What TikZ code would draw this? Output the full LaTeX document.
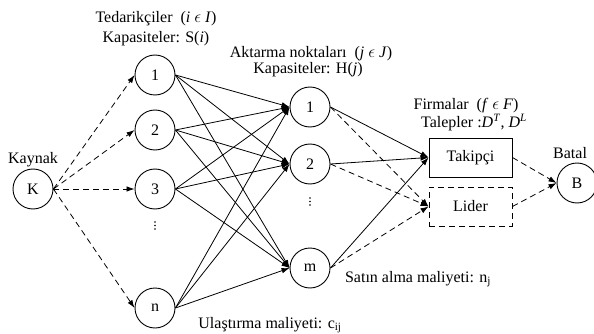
\documentclass[tikz,border=0pt]{standalone}
\usepackage{fontspec}
\setmainfont{Liberation Serif}
\usetikzlibrary{arrows.meta}
\begin{document}
\begin{tikzpicture}[x=1pt,y=-1pt,
  font=\rmfamily\fontsize{16}{19}\selectfont,
  circ/.style={circle, draw, minimum size=40pt, inner sep=0pt, line width=0.9pt},
  firmbox/.style={draw, minimum width=83pt, minimum height=39pt, inner sep=0pt, line width=0.9pt},
  arr/.style={-{Latex[length=8pt,width=5.5pt]}, line width=0.8pt},
  dsh/.style={arr, dash pattern=on 6pt off 4pt},
  lbl/.style={anchor=base, inner sep=0pt},
  dotsty/.style={circle, fill, inner sep=0pt, minimum size=1.6pt}]
\useasboundingbox (0,0) rectangle (594,334);

% nodes
\node[circ] (K) at (33,189) {K};
\node[circ] (s1) at (155,75) {1};
\node[circ] (s2) at (155,130) {2};
\node[circ] (s3) at (155,189) {3};
\node[circ] (sn) at (155,308) {n};
\foreach \k in {0,1,2} \node[dotsty] (sd\k) at (155,222+3.5*\k) {};

\node[circ] (t1) at (310,107) {1};
\node[circ] (t2) at (310,164) {2};
\node[circ] (tm) at (310,268) {m};
\foreach \k in {0,1,2} \node[dotsty] (td\k) at (310,198+3.5*\k) {};

\node[firmbox] (tak) at (470.5,157.5) {Takipçi};
\node[firmbox, dash pattern=on 6pt off 4pt] (lid) at (470.5,206.5) {Lider};

\node[circ] (B) at (577,183) {B};

% labels
\node[lbl] (l1) at (156,23) {Tedarikçiler \ (\textit{i} $\epsilon$ \textit{I})};
\node[lbl] (l2) at (156,43) {Kapasiteler: S(\textit{i})};
\node[lbl] (l3) at (311,58) {Aktarma noktaları \ (\textit{j} $\epsilon$ \textit{J})};
\node[lbl] (l4) at (308,74) {Kapasiteler: H(\textit{j})};
\node[lbl] (l5) at (466,110) {Firmalar \ (\textit{f} $\epsilon$ \textit{F})};
\node[lbl] (l6) at (474,128) {Talepler :\textit{D}\textsuperscript{\textit{T}}, \textit{D}\textsuperscript{\textit{L}}};
\node[lbl] (l7) at (33,163) {Kaynak};
\node[lbl, anchor=base west] (l8) at (553,158) {Batal};
\node[lbl] (l9) at (270,328) {Ulaştırma maliyeti: c\textsubscript{ij}};
\node[lbl] (l10) at (418,282) {Satın alma maliyeti: n\textsubscript{j}};

% source to suppliers
\foreach \s in {s1,s2,s3,sn}
  \draw[dsh] (K.east) -- (\s.west);

% suppliers to transshipment
\foreach \s in {s1,s2,s3,sn}
  \foreach \t in {t1,t2,tm}
    \draw[arr] (\s.east) -- (\t.west);

% transshipment to firms
\foreach \t in {t1,t2,tm} {
  \draw[arr] (\t.east) -- (tak.west);
  \draw[dsh] (\t.east) -- (lid.west);
}

% firms to B
\draw[dsh] (tak.east) -- (B.west);
\draw[dsh] (lid.east) -- (B.west);
\end{tikzpicture}
\end{document}
